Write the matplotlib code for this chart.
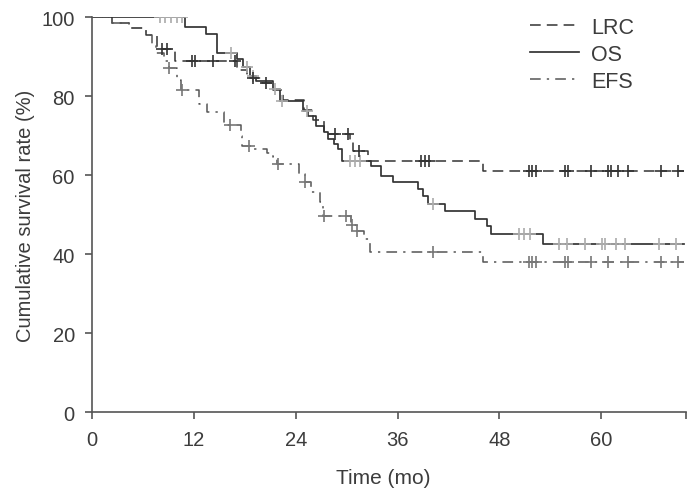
import numpy as np
import matplotlib
matplotlib.use("Agg")
import matplotlib.pyplot as plt

plt.rcParams['font.family'] = ['Liberation Sans', 'DejaVu Sans']

# step change points (time in months, survival %)
os_t = [0, 11, 13.4, 14.7, 17.1, 17.8, 18.6, 19.3, 21.3, 22.2, 24.8, 25.5, 26.4, 27.3, 27.8,
        28.5, 29.0, 29.4, 32.9, 34.0, 35.5, 38.4, 39.0, 39.6, 41.6, 45.1, 46.6, 47.0, 53.2]
os_s = [100, 97.4, 95.7, 91.0, 89.4, 87.3, 85.2, 83.8, 81.8, 78.7, 76.3, 75.0, 72.5, 70.8, 69.1,
        67.8, 66.6, 63.6, 62.4, 59.8, 58.3, 56.5, 54.8, 52.7, 51.0, 48.9, 47.2, 45.1, 42.5]
os_cens = [8.0, 8.6, 9.3, 10.0, 10.6, 16.4, 18.2, 19.0, 21.5, 22.4, 25.3, 30.4, 31.0, 31.6,
           40.2, 50.3, 50.9, 51.6, 55.0, 56.0, 58.1, 60.1, 60.5, 61.7, 62.8, 66.8, 68.8]

lrc_t = [0, 2.3, 4.3, 6.4, 7.6, 9.8, 17.1, 18.3, 20.0, 21.3, 22.5, 25.0, 26.0, 27.3, 30.4,
         30.8, 32.5, 46.1]
lrc_s = [100, 98.5, 97.2, 95.5, 92.0, 88.9, 86.5, 84.6, 83.2, 81.5, 79.0, 76.5, 74.0, 70.4, 68.3,
         66.2, 63.6, 61.1]
lrc_cens = [8.2, 8.8, 11.8, 12.1, 14.3, 16.8, 18.9, 20.5, 28.6, 30.2, 31.5, 38.8, 39.2, 39.7,
            51.5, 51.9, 52.3, 55.7, 56.1, 58.8, 60.8, 61.2, 62.0, 63.2, 67.1, 69.1]

efs_t = [0, 2.3, 4.3, 6.4, 7.0, 7.5, 8.5, 9.0, 10.0, 10.5, 12.6, 13.5, 15.5, 17.5, 17.7, 18.8,
         20.6, 21.3, 21.8, 24.4, 25.1, 25.8, 26.8, 27.2, 30.5, 31.1, 32.0, 32.7, 46.1]
efs_s = [100, 98.5, 97.2, 95.5, 93.0, 91.0, 89.0, 87.0, 84.0, 81.5, 78.0, 76.0, 72.8, 70.0, 67.5,
         66.5, 65.5, 64.5, 62.8, 60.3, 58.2, 55.7, 53.2, 49.7, 47.3, 45.8, 43.8, 40.5, 38.1]
efs_cens = [9.1, 10.6, 16.3, 18.5, 21.9, 25.1, 27.3, 29.9, 30.6, 31.2, 40.2, 51.5, 51.9, 52.3,
            55.7, 56.1, 58.8, 60.8, 63.2, 67.1, 69.1]

t_end = 69.8


def at(ts, ss, q):
    idx = np.searchsorted(ts, q, side='right') - 1
    return np.asarray(ss)[idx]


fig = plt.figure(figsize=(6.88, 4.89), dpi=100)
ax = fig.add_axes([0.134, 0.155, 0.863, 0.808])

dark = '#333333'
efs_c = '#555555'
txt = '#3c3c3c'

ax.step(os_t + [t_end], os_s + [os_s[-1]], where='post', color=dark, lw=1.25, label='OS')
ax.step(lrc_t + [t_end], lrc_s + [lrc_s[-1]], where='post', color=dark, lw=1.1,
        linestyle=(0, (7, 4)), label='LRC')
ax.step(efs_t + [t_end], efs_s + [efs_s[-1]], where='post', color=efs_c, lw=1.1,
        linestyle=(0, (7, 4, 1.5, 4)), label='EFS')

ax.plot(os_cens, at(os_t, os_s, os_cens), '+', color='#aaaaaa', ms=8, mew=1.2)
ax.plot(lrc_cens, at(lrc_t, lrc_s, lrc_cens), '+', color='#333333', ms=8, mew=1.2)
ax.plot(efs_cens, at(efs_t, efs_s, efs_cens), '+', color='#777777', ms=8, mew=1.2)

ax.set_xlim(0, 70)
ax.set_ylim(0, 100)
ax.set_xticks([0, 12, 24, 36, 48, 60, 70])
ax.set_xticklabels(['0', '12', '24', '36', '48', '60', ''])
ax.set_yticks([0, 20, 40, 60, 80, 100])
for s in ['top', 'right']:
    ax.spines[s].set_visible(False)
for s in ['left', 'bottom']:
    ax.spines[s].set_color('#555555')
    ax.spines[s].set_linewidth(1.2)
ax.tick_params(direction='out', length=5, width=1.2, color='#555555',
               labelsize=14.5, labelcolor=txt, pad=7.5)
ax.set_xlabel('Time (mo)', fontsize=15, color=txt)
ax.set_ylabel('Cumulative survival rate (%)', fontsize=14.5, color=txt)
ax.xaxis.set_label_coords(0.49, -0.142)
ax.yaxis.set_label_coords(-0.097, 0.5)

handles, labels = ax.get_legend_handles_labels()
order = [1, 0, 2]
ax.legend([handles[i] for i in order], [labels[i] for i in order], loc='upper right',
          bbox_to_anchor=(0.945, 1.05), frameon=False, fontsize=15.5, handlelength=2.3,
          handletextpad=0.55, labelcolor=txt, labelspacing=0.28)

fig.savefig('out.png', dpi=100)
